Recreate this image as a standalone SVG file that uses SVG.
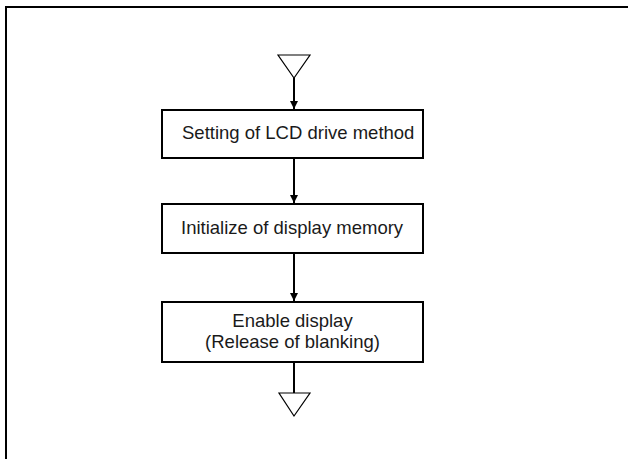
<svg xmlns="http://www.w3.org/2000/svg" width="628" height="459" viewBox="0 0 628 459">
<style>
.box{fill:#fff;stroke:#000;stroke-width:2}
.tri{fill:#fff;stroke:#000;stroke-width:1.2}
.ln{stroke:#000;stroke-width:2;fill:none}
text{font-family:"Liberation Sans",Arial,sans-serif;font-size:18.5px;fill:#1a1a1a}
</style>
<defs>
<marker id="ah" viewBox="0 0 8 10" refX="8" refY="5" markerWidth="8" markerHeight="10" markerUnits="userSpaceOnUse" orient="auto">
<path d="M0,1 L8,5 L0,9 Z" fill="#000"/>
</marker>
</defs>
<path d="M6,459 L6,7 L628,7" fill="none" stroke="#000" stroke-width="2"/>
<g id="start"><polygon class="tri" points="278,55 310,55 294,78"/></g>
<g id="n1"><rect class="box" x="162" y="110" width="261" height="48"/><text x="182" y="139">Setting of LCD drive method</text></g>
<g id="n2"><rect class="box" x="162" y="204" width="261" height="49"/><text x="181" y="234">Initialize of display memory</text></g>
<g id="n3"><rect class="box" x="162" y="302" width="261" height="60"/><text x="292.5" y="327" text-anchor="middle">Enable display</text><text x="292.5" y="348" text-anchor="middle">(Release of blanking)</text></g>
<g id="end"><polygon class="tri" points="279,393 310,393 294,416"/></g>
<g id="connectors">
<line class="ln" x1="294" y1="78" x2="294" y2="109" marker-end="url(#ah)"/>
<line class="ln" x1="294" y1="158" x2="294" y2="203" marker-end="url(#ah)"/>
<line class="ln" x1="294" y1="253" x2="294" y2="301" marker-end="url(#ah)"/>
<line class="ln" x1="294" y1="362" x2="294" y2="393"/>
</g>
</svg>
